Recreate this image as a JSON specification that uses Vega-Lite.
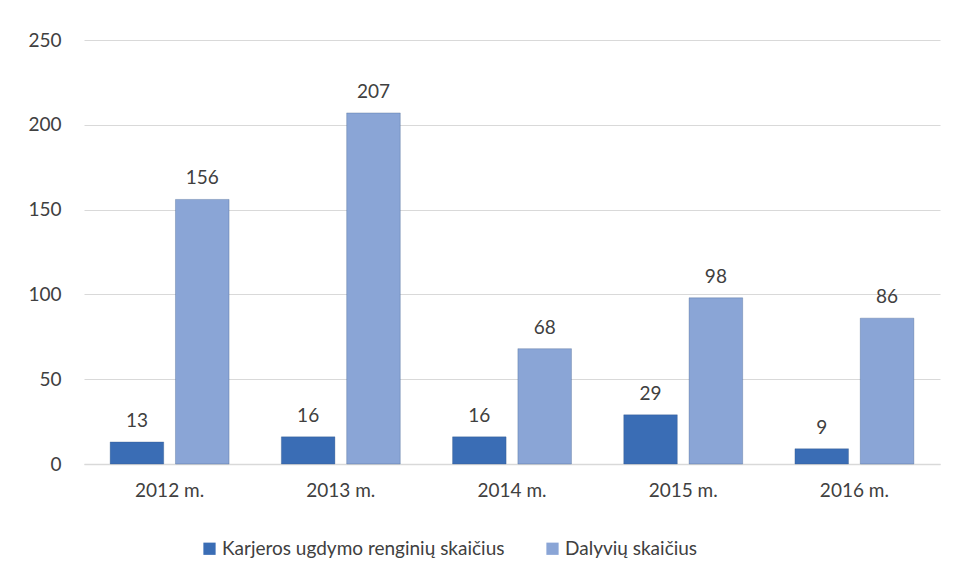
{
  "$schema": "https://vega.github.io/schema/vega-lite/v6.json",
  "width": 856,
  "height": 424,
  "autosize": "none",
  "padding": {"left": 84, "top": 40, "right": 16, "bottom": 118},
  "background": "white",
  "config": {
    "font": "Lato",
    "view": {"stroke": null}
  },
  "data": {
    "values": [
      {"metai": "2012 m.", "serija": "Karjeros ugdymo renginių skaičius", "reiksme": 13},
      {"metai": "2012 m.", "serija": "Dalyvių skaičius", "reiksme": 156},
      {"metai": "2013 m.", "serija": "Karjeros ugdymo renginių skaičius", "reiksme": 16},
      {"metai": "2013 m.", "serija": "Dalyvių skaičius", "reiksme": 207},
      {"metai": "2014 m.", "serija": "Karjeros ugdymo renginių skaičius", "reiksme": 16},
      {"metai": "2014 m.", "serija": "Dalyvių skaičius", "reiksme": 68},
      {"metai": "2015 m.", "serija": "Karjeros ugdymo renginių skaičius", "reiksme": 29},
      {"metai": "2015 m.", "serija": "Dalyvių skaičius", "reiksme": 98},
      {"metai": "2016 m.", "serija": "Karjeros ugdymo renginių skaičius", "reiksme": 9},
      {"metai": "2016 m.", "serija": "Dalyvių skaičius", "reiksme": 86}
    ]
  },
  "encoding": {
    "x": {
      "field": "metai", "type": "nominal", "title": null,
      "scale": {"paddingInner": 0, "paddingOuter": 0},
      "axis": {
        "labelAngle": 0, "labelFontSize": 19, "labelColor": "#404040",
        "labelPadding": 17, "ticks": false, "domainColor": "#d9d9d9", "domainWidth": 1.5
      }
    },
    "xOffset": {
      "field": "serija", "type": "nominal",
      "sort": ["Karjeros ugdymo renginių skaičius", "Dalyvių skaičius"],
      "scale": {"paddingInner": 0.18, "paddingOuter": 0.4}
    },
    "y": {
      "field": "reiksme", "type": "quantitative", "title": null,
      "scale": {"domain": [0, 250]},
      "axis": {
        "values": [0, 50, 100, 150, 200, 250], "labelFontSize": 19, "labelColor": "#404040",
        "labelPadding": 23, "ticks": false, "domain": false,
        "gridColor": "#d9d9d9", "gridWidth": 1.2
      }
    }
  },
  "layer": [
    {
      "mark": {"type": "bar", "stroke": "#2f4f80", "strokeWidth": 0.6, "strokeOpacity": 0.5},
      "encoding": {
        "color": {
          "field": "serija", "type": "nominal", "title": null,
          "sort": ["Karjeros ugdymo renginių skaičius", "Dalyvių skaičius"],
          "scale": {"domain": ["Karjeros ugdymo renginių skaičius", "Dalyvių skaičius"], "range": ["#3A6DB5", "#8AA5D6"]},
          "legend": {
            "orient": "none", "legendX": 116, "legendY": 499, "direction": "horizontal", "symbolType": "square",
            "symbolSize": 150, "symbolStrokeWidth": 0, "labelFontSize": 19, "labelColor": "#404040",
            "columnPadding": 38, "labelOffset": 3, "labelLimit": 400
          }
        }
      }
    },
    {
      "mark": {"type": "text", "baseline": "bottom", "dy": -11, "fontSize": 19, "color": "#404040"},
      "encoding": {"text": {"field": "reiksme", "type": "quantitative"}}
    }
  ]
}
